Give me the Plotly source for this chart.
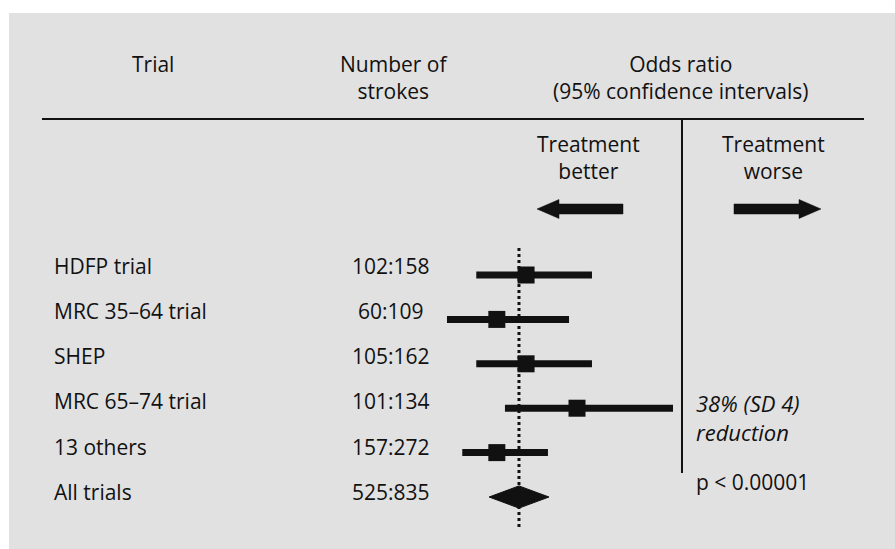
import plotly.graph_objects as go

W, H = 895, 549

# Trials, stroke counts (treated:control) and odds ratios with 95% CIs
trials = ["HDFP trial", "MRC 35–64 trial", "SHEP", "MRC 65–74 trial", "13 others", "All trials"]
strokes = ["102:158", "60:109", "105:162", "101:134", "157:272", "525:835"]
odds = [0.633, 0.581, 0.633, 0.735, 0.581, 0.62]
ci_low = [0.547, 0.502, 0.547, 0.595, 0.525, 0.568]
ci_high = [0.768, 0.718, 0.768, 0.974, 0.675, 0.677]

FONT = "Open Sans"
INK = "#111111"
BG = "#e1e1e1"


def px(x):
    return x / W


def py(y):
    return 1 - y / H


fig = go.Figure()

n_single = len(trials) - 1
rows = list(range(len(trials)))

# confidence-interval bars for the individual trials
bx, by = [], []
for i in range(n_single):
    bx += [ci_low[i], ci_high[i], None]
    by += [rows[i], rows[i], None]
fig.add_trace(go.Scatter(x=bx, y=by, mode="lines",
                         line=dict(color=INK, width=7), hoverinfo="skip"))

# point estimates
fig.add_trace(go.Scatter(x=odds[:n_single], y=rows[:n_single], mode="markers",
                         marker=dict(symbol="square", size=17, color=INK,
                                     line=dict(width=0))))

# pooled estimate as a diamond
k = n_single
dh = 0.25
fig.add_trace(go.Scatter(
    x=[ci_low[k], odds[k], ci_high[k], odds[k], ci_low[k]],
    y=[rows[k], rows[k] - dh, rows[k], rows[k] + dh, rows[k]],
    mode="lines", fill="toself", fillcolor=INK,
    line=dict(color=INK, width=1), hoverinfo="skip"))

shapes = [
    # panel background
    dict(type="rect", xref="paper", yref="paper", x0=px(9), x1=1, y0=0, y1=py(13),
         fillcolor=BG, line=dict(width=0), layer="below"),
    # header rule
    dict(type="line", xref="paper", yref="paper", x0=px(42), x1=px(864),
         y0=py(119), y1=py(119), line=dict(color=INK, width=2)),
    # line of no effect (odds ratio = 1)
    dict(type="line", xref="x", yref="paper", x0=1, x1=1,
         y0=py(119), y1=py(473), line=dict(color=INK, width=2)),
    # pooled odds ratio reference
    dict(type="line", xref="x", yref="y", x0=odds[k], x1=odds[k],
         y0=-0.61, y1=5.72, line=dict(color=INK, width=3, dash="dot")),
]


def arrow(tip, tail, yc, direction):
    head = 22 * direction
    pts = [(tip, yc), (tip + head, yc - 9.5), (tip + head, yc - 5),
           (tail, yc - 5), (tail, yc + 5), (tip + head, yc + 5),
           (tip + head, yc + 9.5)]
    path = "M " + " L ".join(f"{px(x):.5f},{py(y):.5f}" for x, y in pts) + " Z"
    return dict(type="path", xref="paper", yref="paper", path=path,
                fillcolor=INK, line=dict(color=INK, width=0.5))


shapes.append(arrow(537, 623, 209, 1))
shapes.append(arrow(821, 734, 209, -1))

annotations = []


def label(text, x, y, xanchor="center", size=21, italic=False, align="center"):
    annotations.append(dict(
        text=text, xref="paper", yref="paper", x=px(x), y=py(y),
        xanchor=xanchor, yanchor="middle", showarrow=False, align=align,
        font=dict(family=FONT, size=size, color=INK,
                  style="italic" if italic else "normal")))


# column headers
label("Trial", 153, 64)
label("Number of<br>strokes", 394, 77)
label("Odds ratio<br>(95% confidence intervals)", 681, 77)
label("Treatment<br>better", 588, 157)
label("Treatment<br>worse", 773, 157)

# row labels and stroke counts
for i, (t, s) in enumerate(zip(trials, strokes)):
    yt = 265.5 + 45.3 * i
    label(t, 52, yt, xanchor="left")
    label(s, 391, yt)

# summary statement
label("38% (SD 4)<br>reduction", 694, 417, xanchor="left", size=22,
      italic=True, align="left")
label("p < 0.00001", 694, 482, xanchor="left")

fig.update_layout(
    width=W, height=H,
    margin=dict(l=0, r=0, t=0, b=0),
    paper_bgcolor="white", plot_bgcolor="white",
    showlegend=False,
    shapes=shapes, annotations=annotations,
    xaxis=dict(type="log", range=[-0.8686, 0.2713], visible=False, fixedrange=True),
    yaxis=dict(range=[6.171, -6.194], visible=False, fixedrange=True),
)

fig.write_html("out.html")
